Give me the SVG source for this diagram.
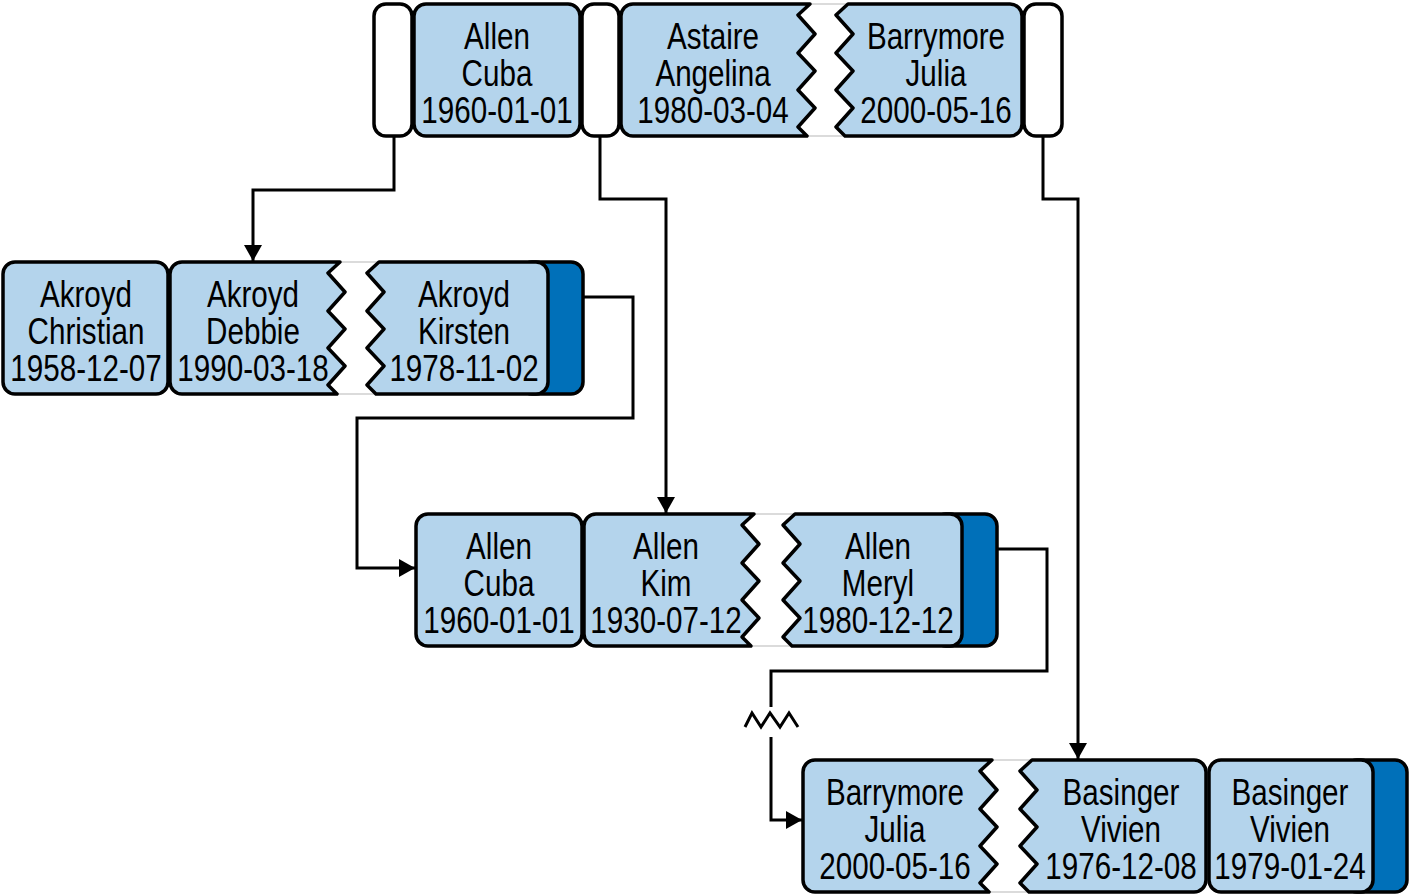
<svg xmlns="http://www.w3.org/2000/svg" width="1411" height="896" viewBox="0 0 1411 896">
<style>
.cell{fill:#b4d4ec;stroke:#000;stroke-width:3.5;stroke-linejoin:round}
.cap{fill:#fff;stroke:#000;stroke-width:3.5}
.dark{fill:#0070b9;stroke:#000;stroke-width:3.5}
.gap{stroke:#d0d0d0;stroke-width:1.5;fill:none}
.t{font-family:"Liberation Sans",Arial,sans-serif;font-size:37px;fill:#000;text-anchor:middle}
.conn{fill:none;stroke:#000;stroke-width:3}
</style>
<defs>
<marker id="ah" markerUnits="userSpaceOnUse" markerWidth="18" markerHeight="18" refX="16" refY="9" orient="auto">
<path d="M0,0 L16,9 L0,18 Z" fill="#000"/>
</marker>
</defs>
<rect width="1411" height="896" fill="#fff"/>

<g id="connectors">
<path class="conn" d="M394,136 V190 H253 V261" marker-end="url(#ah)"/>
<path class="conn" d="M600,136 V199 H666 V513" marker-end="url(#ah)"/>
<path class="conn" d="M1043,136 V199 H1078 V759" marker-end="url(#ah)"/>
<path class="conn" d="M583,297 H633 V418 H357 V568 H415" marker-end="url(#ah)"/>
<path class="conn" d="M997,549 H1047 V671 H771 V707"/>
<path class="conn" d="M745,727 L752,713 L761,727 L770,713 L780,727 L789,713 L798,727"/>
<path class="conn" d="M771,737 V820 H802" marker-end="url(#ah)"/>
</g>

<g id="row1-cap1"><rect class="cap" x="374" y="4" width="38" height="132" rx="12"/></g>
<g id="row1-allen-cuba">
<rect class="cell" x="414" y="4" width="166" height="132" rx="12"/>
<text class="t" transform="translate(497,49) scale(0.8,1)">Allen</text>
<text class="t" transform="translate(497,86) scale(0.8,1)">Cuba</text>
<text class="t" transform="translate(497,123) scale(0.8,1)">1960-01-01</text>
</g>
<g id="row1-cap2"><rect class="cap" x="582" y="4" width="37" height="132" rx="12"/></g>
<g id="row1-astaire-barrymore">
<path class="gap" d="M810,4 H848 M807,136 H845"/>
<path class="cell" d="M633,4 H810 L798,15 L815,34 L798,53 L815,71 L798,90 L815,108 L798,127 L807,136 H633 A12,12 0 0 1 621,124 V16 A12,12 0 0 1 633,4 Z"/>
<path class="cell" d="M848,4 H1010 A12,12 0 0 1 1022,16 V124 A12,12 0 0 1 1010,136 H845 L836,127 L853,108 L836,90 L853,71 L836,53 L853,34 L836,15 Z"/>
<text class="t" transform="translate(713,49) scale(0.8,1)">Astaire</text>
<text class="t" transform="translate(713,86) scale(0.8,1)">Angelina</text>
<text class="t" transform="translate(713,123) scale(0.8,1)">1980-03-04</text>
<text class="t" transform="translate(936,49) scale(0.8,1)">Barrymore</text>
<text class="t" transform="translate(936,86) scale(0.8,1)">Julia</text>
<text class="t" transform="translate(936,123) scale(0.8,1)">2000-05-16</text>
</g>
<g id="row1-cap3"><rect class="cap" x="1024" y="4" width="38" height="132" rx="12"/></g>

<g id="row2-akroyd-christian">
<rect class="cell" x="3" y="262" width="165" height="132" rx="12"/>
<text class="t" transform="translate(86,307) scale(0.8,1)">Akroyd</text>
<text class="t" transform="translate(86,344) scale(0.8,1)">Christian</text>
<text class="t" transform="translate(86,381) scale(0.8,1)">1958-12-07</text>
</g>
<g id="row2-akroyd-debbie-kirsten">
<rect class="dark" x="520" y="262" width="63" height="132" rx="12"/>
<path class="gap" d="M340,262 H379 M337,394 H376"/>
<path class="cell" d="M182,262 H340 L328,273 L345,292 L328,311 L345,329 L328,348 L345,366 L328,385 L337,394 H182 A12,12 0 0 1 170,382 V274 A12,12 0 0 1 182,262 Z"/>
<path class="cell" d="M379,262 H536 A12,12 0 0 1 548,274 V382 A12,12 0 0 1 536,394 H376 L367,385 L384,366 L367,348 L384,329 L367,311 L384,292 L367,273 Z"/>
<text class="t" transform="translate(253,307) scale(0.8,1)">Akroyd</text>
<text class="t" transform="translate(253,344) scale(0.8,1)">Debbie</text>
<text class="t" transform="translate(253,381) scale(0.8,1)">1990-03-18</text>
<text class="t" transform="translate(464,307) scale(0.8,1)">Akroyd</text>
<text class="t" transform="translate(464,344) scale(0.8,1)">Kirsten</text>
<text class="t" transform="translate(464,381) scale(0.8,1)">1978-11-02</text>
</g>

<g id="row3-allen-cuba">
<rect class="cell" x="416" y="514" width="166" height="132" rx="12"/>
<text class="t" transform="translate(499,559) scale(0.8,1)">Allen</text>
<text class="t" transform="translate(499,596) scale(0.8,1)">Cuba</text>
<text class="t" transform="translate(499,633) scale(0.8,1)">1960-01-01</text>
</g>
<g id="row3-allen-kim-meryl">
<rect class="dark" x="934" y="514" width="63" height="132" rx="12"/>
<path class="gap" d="M754,514 H795 M751,646 H792"/>
<path class="cell" d="M596,514 H754 L742,525 L759,544 L742,563 L759,581 L742,600 L759,618 L742,637 L751,646 H596 A12,12 0 0 1 584,634 V526 A12,12 0 0 1 596,514 Z"/>
<path class="cell" d="M795,514 H950 A12,12 0 0 1 962,526 V634 A12,12 0 0 1 950,646 H792 L783,637 L800,618 L783,600 L800,581 L783,563 L800,544 L783,525 Z"/>
<text class="t" transform="translate(666,559) scale(0.8,1)">Allen</text>
<text class="t" transform="translate(666,596) scale(0.8,1)">Kim</text>
<text class="t" transform="translate(666,633) scale(0.8,1)">1930-07-12</text>
<text class="t" transform="translate(878,559) scale(0.8,1)">Allen</text>
<text class="t" transform="translate(878,596) scale(0.8,1)">Meryl</text>
<text class="t" transform="translate(878,633) scale(0.8,1)">1980-12-12</text>
</g>

<g id="row4-barrymore-basinger">
<path class="gap" d="M992,760 H1032 M989,892 H1029"/>
<path class="cell" d="M815,760 H992 L980,771 L997,790 L980,809 L997,827 L980,846 L997,864 L980,883 L989,892 H815 A12,12 0 0 1 803,880 V772 A12,12 0 0 1 815,760 Z"/>
<path class="cell" d="M1032,760 H1194 A12,12 0 0 1 1206,772 V880 A12,12 0 0 1 1194,892 H1029 L1020,883 L1037,864 L1020,846 L1037,827 L1020,809 L1037,790 L1020,771 Z"/>
<text class="t" transform="translate(895,805) scale(0.8,1)">Barrymore</text>
<text class="t" transform="translate(895,842) scale(0.8,1)">Julia</text>
<text class="t" transform="translate(895,879) scale(0.8,1)">2000-05-16</text>
<text class="t" transform="translate(1121,805) scale(0.8,1)">Basinger</text>
<text class="t" transform="translate(1121,842) scale(0.8,1)">Vivien</text>
<text class="t" transform="translate(1121,879) scale(0.8,1)">1976-12-08</text>
</g>
<g id="row4-basinger-vivien">
<rect class="dark" x="1345" y="760" width="62" height="132" rx="12"/>
<rect class="cell" x="1209" y="760" width="164" height="132" rx="12"/>
<text class="t" transform="translate(1290,805) scale(0.8,1)">Basinger</text>
<text class="t" transform="translate(1290,842) scale(0.8,1)">Vivien</text>
<text class="t" transform="translate(1290,879) scale(0.8,1)">1979-01-24</text>
</g>
</svg>
